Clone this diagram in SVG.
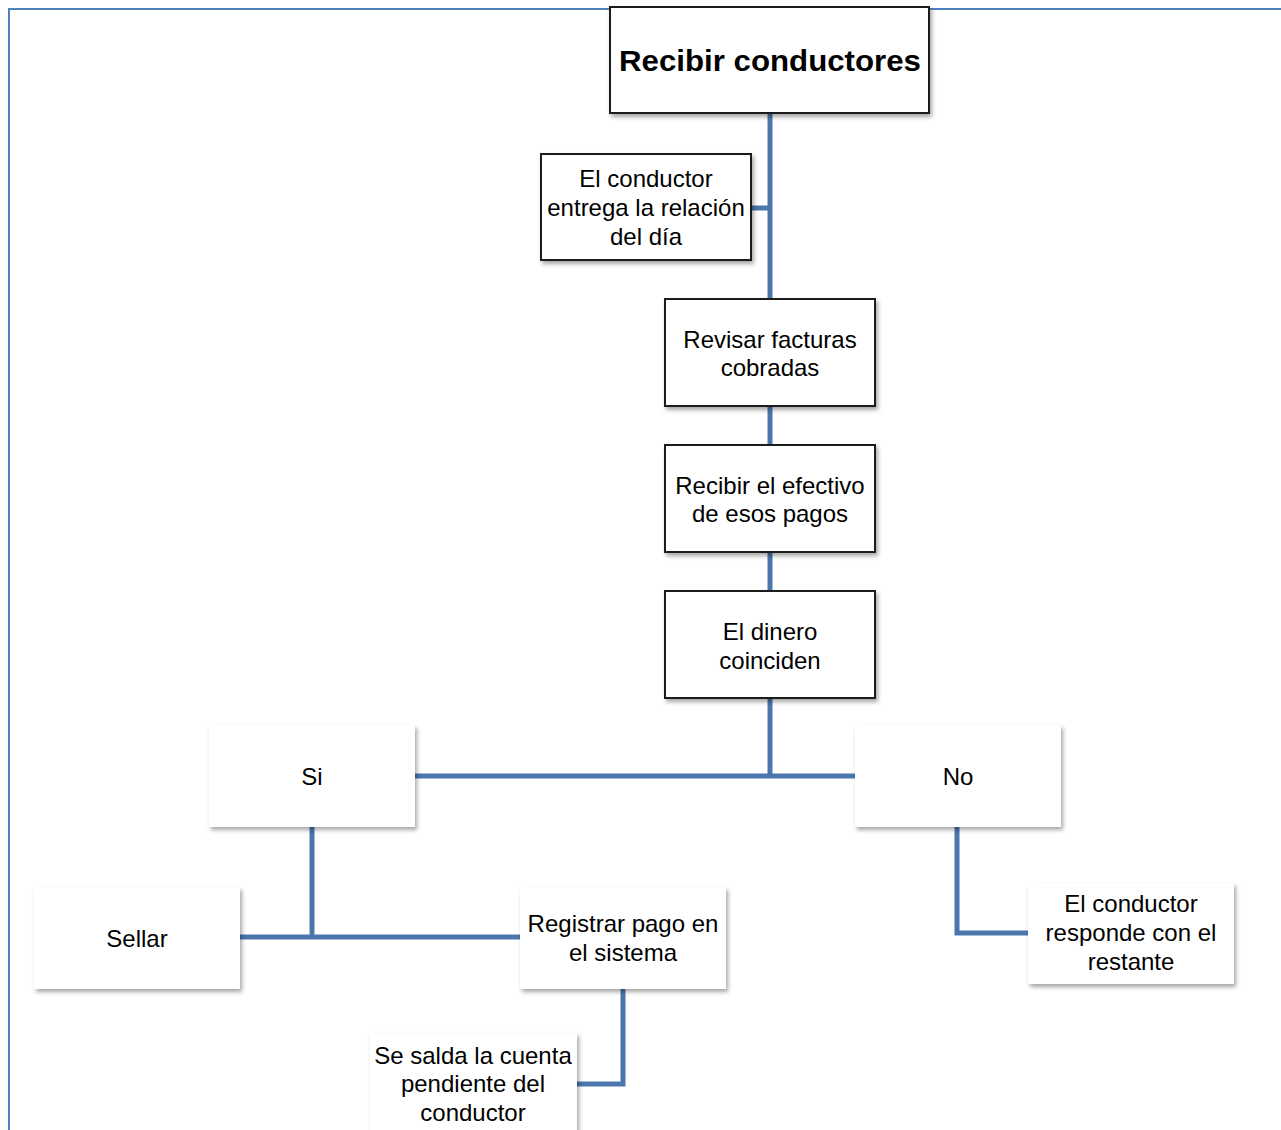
<svg xmlns="http://www.w3.org/2000/svg" width="1281" height="1130" viewBox="0 0 1281 1130">
  <style>
    .box { fill: #ffffff; stroke: #1a1a1a; stroke-width: 2; filter: url(#shadow); }
    .card { fill: #ffffff; stroke: none; filter: url(#shadow); }
    .lbl { font-family: "Liberation Sans", Arial, sans-serif; font-size: 24px; fill: #000; text-anchor: middle; dominant-baseline: central; }
    .title { font-family: "Liberation Sans", Arial, sans-serif; font-size: 30px; font-weight: bold; fill: #000; text-anchor: middle; dominant-baseline: central; }
    .wire { fill: none; stroke: #4a76ad; stroke-width: 5; stroke-linejoin: miter; }
    .frame { fill: none; stroke: #4f81bd; stroke-width: 2; }
  </style>
  <defs>
    <filter id="shadow" x="-10%" y="-10%" width="125%" height="130%">
      <feDropShadow dx="2" dy="3" stdDeviation="2.2" flood-color="#000" flood-opacity="0.35"/>
    </filter>
  </defs>

  <rect width="1281" height="1130" fill="#ffffff"/>
  <!-- page frame -->
  <path class="frame" d="M9 1130 V9 H1281"/>

  <!-- connectors -->
  <g id="connectors">
    <path class="wire" d="M770 113 V299"/>
    <path class="wire" d="M751 208 H770"/>
    <path class="wire" d="M770 406 V445"/>
    <path class="wire" d="M770 552 V591"/>
    <path class="wire" d="M770 698 V776"/>
    <path class="wire" d="M415 776 H855"/>
    <path class="wire" d="M312 827 V937"/>
    <path class="wire" d="M240 937 H520"/>
    <path class="wire" d="M623 989 V1084 H577"/>
    <path class="wire" d="M957 827 V933 H1028"/>
  </g>

  <g id="recibir-conductores">
    <rect class="box" x="610" y="7" width="319" height="106"/>
    <text class="title" x="770" y="60" textLength="302" lengthAdjust="spacingAndGlyphs">Recibir conductores</text>
  </g>

  <g id="entrega-relacion">
    <rect class="box" x="541" y="154" width="210" height="106"/>
    <text class="lbl" x="646" y="178">El conductor</text>
    <text class="lbl" x="646" y="207">entrega la relación</text>
    <text class="lbl" x="646" y="236">del día</text>
  </g>

  <g id="revisar-facturas">
    <rect class="box" x="665" y="299" width="210" height="107"/>
    <text class="lbl" x="770" y="339">Revisar facturas</text>
    <text class="lbl" x="770" y="367">cobradas</text>
  </g>

  <g id="recibir-efectivo">
    <rect class="box" x="665" y="445" width="210" height="107"/>
    <text class="lbl" x="770" y="485">Recibir el efectivo</text>
    <text class="lbl" x="770" y="513">de esos pagos</text>
  </g>

  <g id="dinero-coinciden">
    <rect class="box" x="665" y="591" width="210" height="107"/>
    <text class="lbl" x="770" y="631">El dinero</text>
    <text class="lbl" x="770" y="660">coinciden</text>
  </g>

  <g id="si">
    <rect class="card" x="209" y="725" width="206" height="102"/>
    <text class="lbl" x="312" y="776">Si</text>
  </g>

  <g id="no">
    <rect class="card" x="855" y="725" width="206" height="102"/>
    <text class="lbl" x="958" y="776">No</text>
  </g>

  <g id="sellar">
    <rect class="card" x="34" y="887" width="206" height="102"/>
    <text class="lbl" x="137" y="938">Sellar</text>
  </g>

  <g id="registrar-pago">
    <rect class="card" x="520" y="887" width="206" height="102"/>
    <text class="lbl" x="623" y="923">Registrar pago en</text>
    <text class="lbl" x="623" y="952">el sistema</text>
  </g>

  <g id="salda-cuenta">
    <rect class="card" x="370" y="1033" width="207" height="110"/>
    <text class="lbl" x="473" y="1055">Se salda la cuenta</text>
    <text class="lbl" x="473" y="1083">pendiente del</text>
    <text class="lbl" x="473" y="1112">conductor</text>
  </g>

  <g id="responde-restante">
    <rect class="card" x="1028" y="883" width="206" height="101"/>
    <text class="lbl" x="1131" y="903">El conductor</text>
    <text class="lbl" x="1131" y="932">responde con el</text>
    <text class="lbl" x="1131" y="961">restante</text>
  </g>
</svg>
